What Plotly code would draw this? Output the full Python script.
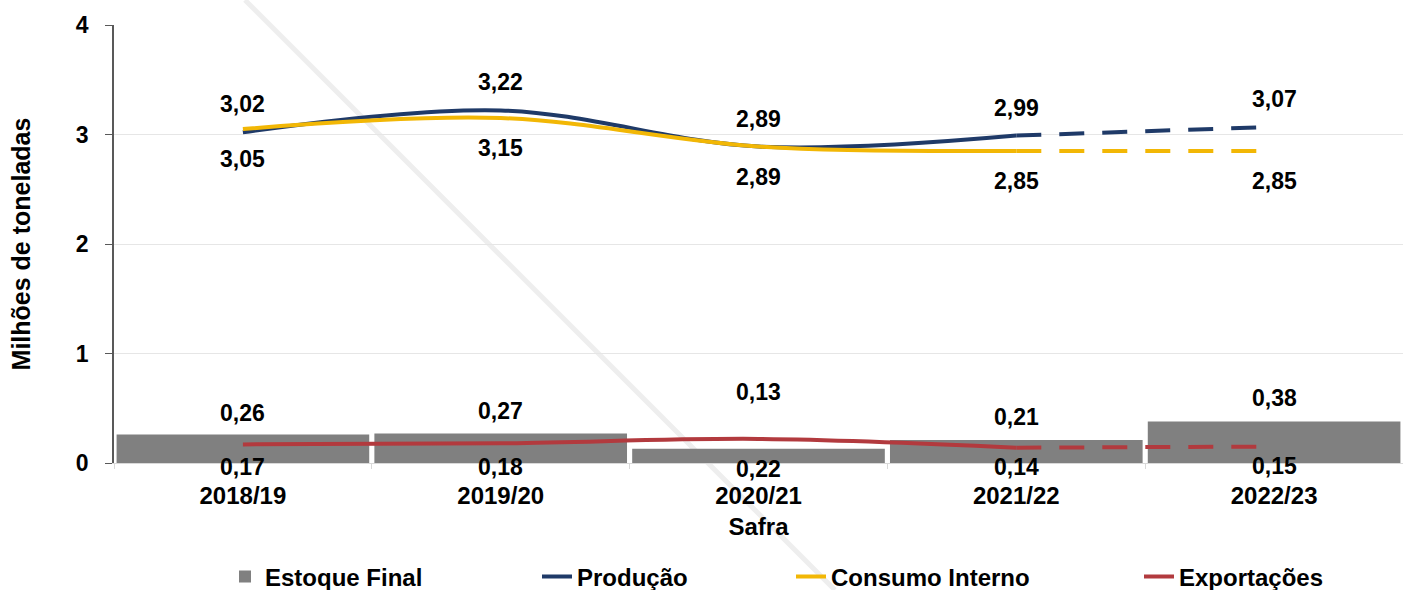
import plotly.graph_objects as go

# Balanço de oferta e demanda por safra (milhões de toneladas)
safras = ["2018/19", "2019/20", "2020/21", "2021/22", "2022/23"]
estoque_final = [0.26, 0.27, 0.13, 0.21, 0.38]
producao = [3.02, 3.22, 2.89, 2.99, 3.07]
consumo_interno = [3.05, 3.15, 2.89, 2.85, 2.85]
exportacoes = [0.17, 0.18, 0.22, 0.14, 0.15]
y_ticks = [0, 1, 2, 3, 4]

# the last safra is a projection: drawn with a dashed segment
N_REALIZADO = 4

FONT = "Liberation Sans, Arial, sans-serif"
COR_ESTOQUE = "#808080"
COR_PRODUCAO = "#1F3A68"
COR_CONSUMO = "#F2B705"
COR_EXPORT = "#B23A3E"

# vertical label offsets (px) for each series
SHIFT_PRODUCAO = [28] * 5
SHIFT_CONSUMO = [-30] * 5
SHIFT_ESTOQUE = [22, 22, 57, 23, 23]
SHIFT_EXPORT = [-23, -24, -30, -19, -19]


def fmt(v):
    return f"{v:.2f}".replace(".", ",")


fig = go.Figure()

fig.add_trace(go.Bar(
    x=safras, y=estoque_final, name="Estoque Final",
    marker=dict(color=COR_ESTOQUE, line=dict(width=0)),
    legend="legend", showlegend=True,
))

series = [
    ("Produção", producao, COR_PRODUCAO, "legend2"),
    ("Consumo Interno", consumo_interno, COR_CONSUMO, "legend3"),
    ("Exportações", exportacoes, COR_EXPORT, "legend4"),
]
for nome, vals, cor, leg in series:
    fig.add_trace(go.Scatter(
        x=safras[:N_REALIZADO], y=vals[:N_REALIZADO], name=nome,
        mode="lines", line=dict(color=cor, width=4, shape="spline"),
        legend=leg, showlegend=True,
    ))
    fig.add_trace(go.Scatter(
        x=safras[N_REALIZADO - 1:], y=vals[N_REALIZADO - 1:], name=nome,
        mode="lines", line=dict(color=cor, width=4, dash="25px,18px"),
        showlegend=False, legend=leg,
    ))

label_font = dict(family=FONT, size=23, color="black", weight="bold")
for vals, shifts in [(producao, SHIFT_PRODUCAO), (consumo_interno, SHIFT_CONSUMO),
                     (estoque_final, SHIFT_ESTOQUE), (exportacoes, SHIFT_EXPORT)]:
    for s, v, dy in zip(safras, vals, shifts):
        fig.add_annotation(x=s, y=v, text=fmt(v), showarrow=False,
                           yshift=dy, font=label_font)

# faint diagonal stroke across the canvas
fig.add_shape(type="line", xref="paper", yref="paper",
              x0=0.1016, y0=1.057, x1=0.5593, y1=-0.29,
              line=dict(color="#eeeeee", width=5), layer="below")

leg_common = dict(orientation="h", yanchor="middle", y=-0.26, xanchor="left",
                  bgcolor="rgba(0,0,0,0)", borderwidth=0,
                  font=dict(family=FONT, size=24, color="black", weight="bold"))

fig.update_layout(
    width=1403, height=590,
    margin=dict(l=114, r=0, t=25, b=127, autoexpand=False),
    paper_bgcolor="white", plot_bgcolor="rgba(0,0,0,0)",
    showlegend=True,
    bargap=0.02,
    font=dict(family=FONT, color="black"),
    legend=dict(x=(225 - 114) / 1289, **leg_common),
    legend2=dict(x=(537 - 114) / 1289, **leg_common),
    legend3=dict(x=(791 - 114) / 1289, **leg_common),
    legend4=dict(x=(1139 - 114) / 1289, **leg_common),
    xaxis=dict(
        type="category", range=[-0.5, 4.5],
        showline=True, linecolor="#d9d9d9", linewidth=1,
        ticks="outside", tickson="boundaries", ticklen=5, tickcolor="#d9d9d9",
        tickfont=dict(family=FONT, size=24, color="black", weight="bold"),
        ticklabelstandoff=11,
        showgrid=False,
        title=dict(text="Safra", standoff=10,
                   font=dict(family=FONT, size=24, color="black", weight="bold")),
        automargin=False,
    ),
    yaxis=dict(
        range=[0, 4], tickvals=y_ticks, ticktext=[str(t) for t in y_ticks],
        showline=True, linecolor="#595959", linewidth=1.5,
        ticks="outside", ticklen=7, tickcolor="#595959",
        showgrid=True, gridcolor="#e6e6e6", gridwidth=1, zeroline=False,
        tickfont=dict(family=FONT, size=23, color="black", weight="bold"),
        ticklabelstandoff=12,
        title=dict(text="Milhões de toneladas", standoff=38,
                   font=dict(family=FONT, size=25, color="black", weight="bold")),
        automargin=False,
    ),
)

fig.write_html("out.html")
